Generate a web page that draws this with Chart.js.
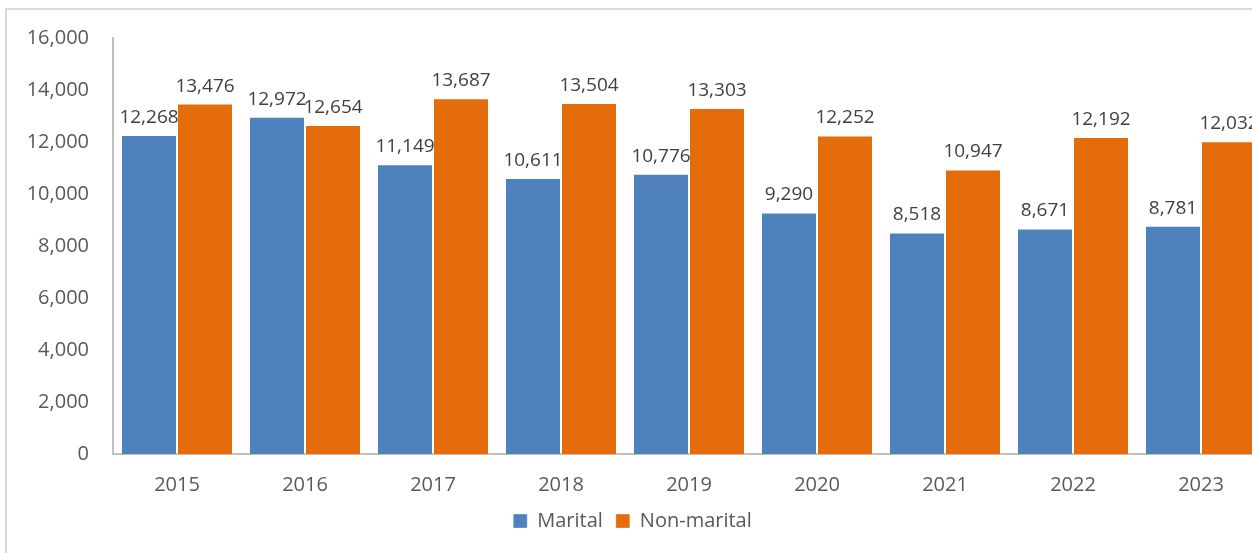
<!DOCTYPE html>
<html>
<head>
<meta charset="utf-8">
<script src="https://cdn.jsdelivr.net/npm/chart.js@4.4.1/dist/chart.umd.min.js"></script>
<style>
    html, body { margin: 0; padding: 0; background: #fff; overflow: hidden; }
    #wrap { position: relative; width: 1252px; height: 553px; overflow: hidden; }
    #frame { position: absolute; left: 5px; top: 8px; width: 1300px; height: 600px; border: 2px solid #D9D9D9; box-sizing: border-box; }
    #chart { position: absolute; left: 0; top: 0; }
</style>
</head>
<body>
<div id="wrap">
    <div id="frame"></div>
    <canvas id="chart" width="1280" height="553"></canvas>
</div>
<script>
// Marital vs non-marital, 2015-2023
const years = ['2015', '2016', '2017', '2018', '2019', '2020', '2021', '2022', '2023'];
const marital = [12268, 12972, 11149, 10611, 10776, 9290, 8518, 8671, 8781];
const nonMarital = [13476, 12654, 13687, 13504, 13303, 12252, 10947, 12192, 12032];
const yTicks = [0, 2000, 4000, 6000, 8000, 10000, 12000, 14000, 16000];

const fmt = v => v.toLocaleString('en-US');

// value labels above each bar
const barLabels = {
    id: 'barLabels',
    afterDatasetsDraw(chart) {
        const ctx = chart.ctx;
        ctx.save();
        ctx.font = '19px "Open Sans"';
        ctx.fillStyle = '#404040';
        ctx.textAlign = 'center';
        ctx.textBaseline = 'bottom';
        chart.data.datasets.forEach((ds, i) => {
            chart.getDatasetMeta(i).data.forEach((bar, j) => {
                ctx.fillText(fmt(ds.data[j]), bar.x, bar.y - 8);
            });
        });
        ctx.restore();
    }
};

new Chart(document.getElementById('chart'), {
    type: 'bar',
    data: {
        labels: years,
        datasets: [{
            label: 'Marital',
            data: marital,
            backgroundColor: '#4F81BD',
            borderColor: 'rgba(255,255,255,0.35)',
            borderWidth: 1
        }, {
            label: 'Non-marital',
            data: nonMarital,
            backgroundColor: '#E46C0A',
            borderColor: 'rgba(255,255,255,0.35)',
            borderWidth: 1
        }]
    },
    options: {
        responsive: false,
        animation: false,
        layout: { padding: { top: 38, right: 15, bottom: 12, left: 0 } },
        datasets: { bar: { categoryPercentage: 0.875, barPercentage: 1.0 } },
        scales: {
            x: {
                grid: { display: false },
                border: { color: '#BFBFBF', width: 2 },
                ticks: { color: '#595959', font: { family: 'Open Sans', size: 20 }, padding: 11 },
                afterFit(scale) { scale.height = 44; }
            },
            y: {
                min: 0,
                max: 16000,
                afterBuildTicks(scale) { scale.ticks = yTicks.map(v => ({ value: v })); },
                grid: { display: false },
                border: { color: '#BFBFBF', width: 2 },
                ticks: {
                    color: '#595959',
                    font: { family: 'Open Sans', size: 20 },
                    padding: 16,
                    callback: v => fmt(v)
                },
                afterFit(scale) { scale.width = 113; }
            }
        },
        plugins: {
            legend: {
                position: 'bottom',
                labels: {
                    color: '#595959',
                    font: { family: 'Open Sans', size: 20 },
                    boxWidth: 14,
                    boxHeight: 14,
                    padding: 13
                }
            },
            tooltip: { enabled: false }
        }
    },
    plugins: [barLabels]
});
</script>
</body>
</html>
